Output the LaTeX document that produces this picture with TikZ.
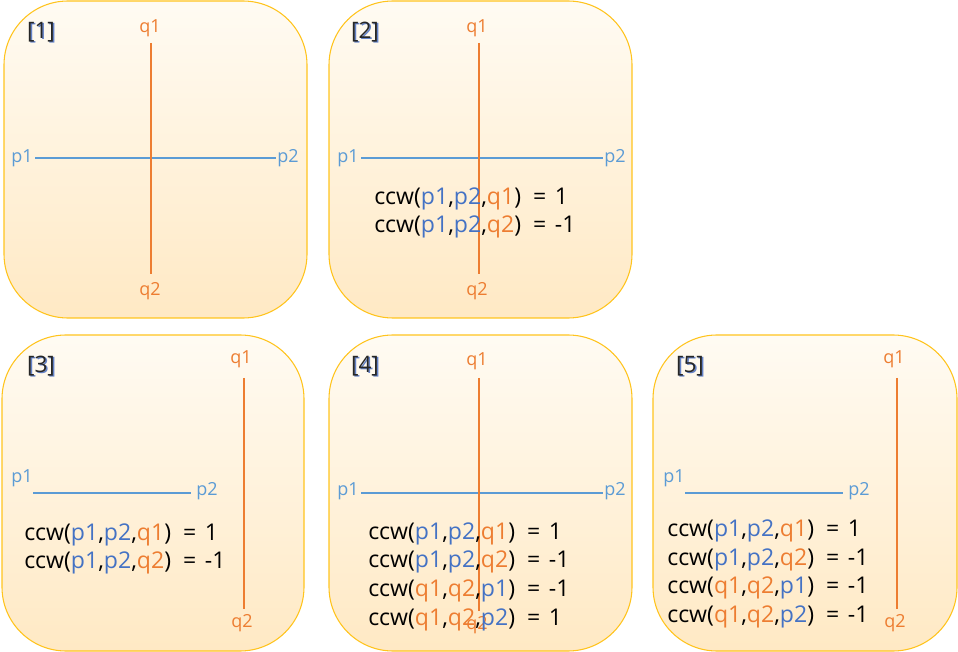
\documentclass[tikz,border=0pt]{standalone}
\usepackage{fontspec}
\setmainfont{Open Sans}
\definecolor{bord}{RGB}{255,196,30}
\definecolor{topc}{RGB}{255,251,243}
\definecolor{botc}{RGB}{255,233,196}
\definecolor{lorange}{RGB}{237,125,49}
\definecolor{lblue}{RGB}{91,155,213}
\definecolor{tblue}{RGB}{68,114,196}
\definecolor{shadowc}{RGB}{100,130,200}
\newcommand{\Bl}[1]{\textcolor{tblue}{#1}}
\newcommand{\Or}[1]{\textcolor{lorange}{#1}}
\newcommand{\ccwrow}[4]{ccw(#1,#2,#3)\hspace{9pt}=\hspace{6.5pt}#4}
\tikzset{
  panel/.style={draw=bord, line width=0.8pt, top color=topc, bottom color=botc, rounded corners=48},
  qline/.style={draw=lorange, line width=1.5pt},
  pline/.style={draw=lblue, line width=1.5pt},
  qlab/.style={text=lorange, font=\fontsize{13.5pt}{15pt}\selectfont, inner sep=0pt},
  plab/.style={text=lblue, font=\fontsize{13.5pt}{15pt}\selectfont, inner sep=0pt},
  eqtext/.style={font=\fontsize{17.3pt}{19pt}\selectfont, anchor=west, inner sep=0pt},
  tagtext/.style={font=\fontsize{17pt}{19pt}\selectfont, inner sep=0pt, text=black!85},
  tagshadow/.style={font=\fontsize{17pt}{19pt}\selectfont, inner sep=0pt, text=shadowc}
}
\newcommand{\paneltag}[3]{%
  \node[tagshadow] (#1s) at ([shift={(1.5,1.5)}]#2) {[#3]};
  \node[tagtext] (#1) at (#2) {[#3]};}
\begin{document}
\begin{tikzpicture}[x=0.75pt,y=-0.75pt]
\useasboundingbox (0,0) rectangle (958,652);
% panels
\path[panel] (4,1) rectangle (307,318);
\path[panel] (329,1) rectangle (632,318);
\path[panel] (2,335) rectangle (304,651);
\path[panel] (329,335) rectangle (632,651);
\path[panel] (653,335) rectangle (957,651);

% ---------- panel 1
\coordinate (t1) at (41,32);
\paneltag{tag1}{t1}{1}
\node[qlab] (q1a) at (150,28) {q1};
\node[qlab] (q2a) at (150,291) {q2};
\node[plab] (p1a) at (22,158) {p1};
\node[plab] (p2a) at (288,158) {p2};
\coordinate (q1a') at (151,43);
\coordinate (q2a') at (151,274);
\coordinate (p1a') at (35,158);
\coordinate (p2a') at (276,158);
\draw[pline] (p1a') -- (p2a');
\draw[qline] (q1a') -- (q2a');

% ---------- panel 2
\coordinate (t2) at (365,32);
\paneltag{tag2}{t2}{2}
\node[qlab] (q1b) at (477,28) {q1};
\node[qlab] (q2b) at (477,291) {q2};
\node[plab] (p1b) at (348,158) {p1};
\node[plab] (p2b) at (615,158) {p2};
\coordinate (q1b') at (479,43);
\coordinate (q2b') at (479,274);
\coordinate (p1b') at (361,158);
\coordinate (p2b') at (603,158);
\draw[pline] (p1b') -- (p2b');
\draw[qline] (q1b') -- (q2b');
\node[eqtext] (e2a) at (374,199) {\ccwrow{\Bl{p1}}{\Bl{p2}}{\Or{q1}}{1}};
\node[eqtext] (e2b) at (374,227) {\ccwrow{\Bl{p1}}{\Bl{p2}}{\Or{q2}}{-1}};

% ---------- panel 3
\coordinate (t3) at (41,366);
\paneltag{tag3}{t3}{3}
\node[qlab] (q1c) at (241,359) {q1};
\node[qlab] (q2c) at (242,623) {q2};
\node[plab] (p1c) at (22,478) {p1};
\node[plab] (p2c) at (207,491) {p2};
\coordinate (q1c') at (244,378);
\coordinate (q2c') at (244,609);
\coordinate (p1c') at (33,493);
\coordinate (p2c') at (191,493);
\draw[pline] (p1c') -- (p2c');
\draw[qline] (q1c') -- (q2c');
\node[eqtext] (e3a) at (24,535) {\ccwrow{\Bl{p1}}{\Bl{p2}}{\Or{q1}}{1}};
\node[eqtext] (e3b) at (24,563) {\ccwrow{\Bl{p1}}{\Bl{p2}}{\Or{q2}}{-1}};

% ---------- panel 4
\coordinate (t4) at (365,366);
\paneltag{tag4}{t4}{4}
\node[qlab] (q1d) at (477,361) {q1};
\node[qlab] (q2d) at (477,625) {q2};
\node[plab] (p1d) at (348,491) {p1};
\node[plab] (p2d) at (615,491) {p2};
\coordinate (q1d') at (479,378);
\coordinate (q2d') at (479,611);
\coordinate (p1d') at (361,493);
\coordinate (p2d') at (603,493);
\draw[pline] (p1d') -- (p2d');
\draw[qline] (q1d') -- (q2d');
\node[eqtext] (e4a) at (368,534) {\ccwrow{\Bl{p1}}{\Bl{p2}}{\Or{q1}}{1}};
\node[eqtext] (e4b) at (368,562) {\ccwrow{\Bl{p1}}{\Bl{p2}}{\Or{q2}}{-1}};
\node[eqtext] (e4c) at (368,591) {\ccwrow{\Or{q1}}{\Or{q2}}{\Bl{p1}}{-1}};
\node[eqtext] (e4d) at (368,620) {\ccwrow{\Or{q1}}{\Or{q2}}{\Bl{p2}}{1}};

% ---------- panel 5
\coordinate (t5) at (690,366);
\paneltag{tag5}{t5}{5}
\node[qlab] (q1e) at (894,359) {q1};
\node[qlab] (q2e) at (895,623) {q2};
\node[plab] (p1e) at (674,478) {p1};
\node[plab] (p2e) at (859,491) {p2};
\coordinate (q1e') at (897,378);
\coordinate (q2e') at (897,609);
\coordinate (p1e') at (685,493);
\coordinate (p2e') at (843,493);
\draw[pline] (p1e') -- (p2e');
\draw[qline] (q1e') -- (q2e');
\node[eqtext] (e5a) at (667,531) {\ccwrow{\Bl{p1}}{\Bl{p2}}{\Or{q1}}{1}};
\node[eqtext] (e5b) at (667,560) {\ccwrow{\Bl{p1}}{\Bl{p2}}{\Or{q2}}{-1}};
\node[eqtext] (e5c) at (667,588) {\ccwrow{\Or{q1}}{\Or{q2}}{\Bl{p1}}{-1}};
\node[eqtext] (e5d) at (667,617) {\ccwrow{\Or{q1}}{\Or{q2}}{\Bl{p2}}{-1}};
\end{tikzpicture}
\end{document}
